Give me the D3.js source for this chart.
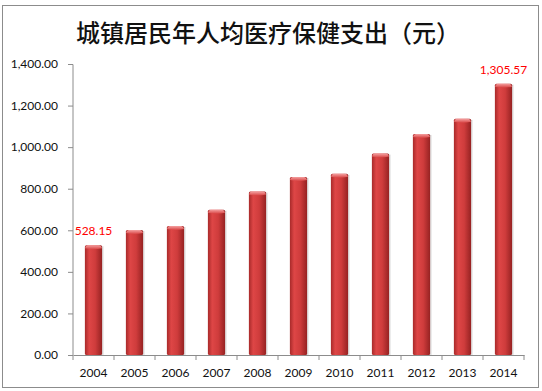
<!DOCTYPE html>
<html>
<head>
<meta charset="utf-8">
<script src="https://cdn.jsdelivr.net/npm/d3@7"></script>
<style>
  body { margin: 0; background: #fff; }
  svg { display: block; }
</style>
</head>
<body>
<div id="chart"></div>
<script>
const years = ['2004', '2005', '2006', '2007', '2008', '2009', '2010', '2011', '2012', '2013', '2014'];
const spending = [528.15, 600.85, 620.54, 699.09, 786.20, 856.41, 871.77, 968.98, 1063.68, 1136.10, 1305.57];
const yTicks = [0, 200, 400, 600, 800, 1000, 1200, 1400];
const labelled = ['2004', '2014'];
const title = '城镇居民年人均医疗保健支出（元）';

const width = 542, height = 391;
const margin = {left: 73, right: 18, top: 64, bottom: 36};

const svg = d3.select('#chart').append('svg')
    .attr('width', width).attr('height', height);

const defs = svg.append('defs');
const grad = defs.append('linearGradient').attr('id', 'barGrad')
    .attr('x1', '0%').attr('x2', '100%').attr('y1', '0%').attr('y2', '0%');
grad.append('stop').attr('offset', '0%').attr('stop-color', '#a82a2a');
grad.append('stop').attr('offset', '25%').attr('stop-color', '#de4646');
grad.append('stop').attr('offset', '60%').attr('stop-color', '#cf3c3c');
grad.append('stop').attr('offset', '100%').attr('stop-color', '#962222');

const capGrad = defs.append('linearGradient').attr('id', 'capGrad')
    .attr('x1', '0%').attr('x2', '0%').attr('y1', '0%').attr('y2', '100%');
capGrad.append('stop').attr('offset', '0%').attr('stop-color', '#f4a0a0');
capGrad.append('stop').attr('offset', '100%').attr('stop-color', '#d84444');

// outer frame
svg.append('rect')
    .attr('x', 2.5).attr('y', 5.5).attr('width', 536).attr('height', 382)
    .attr('fill', '#fff').attr('stroke', '#8c8c8c').attr('stroke-width', 1);

svg.append('text')
    .attr('x', 268).attr('y', 42)
    .attr('text-anchor', 'middle')
    .attr('font-family', '"Noto Sans CJK SC", sans-serif')
    .attr('font-weight', 500)
    .attr('font-size', 24)
    .attr('fill', '#111')
    .text(title);

const x = d3.scaleBand().domain(years)
    .range([margin.left, width - margin.right]).paddingInner(0.58).paddingOuter(0.29);
const y = d3.scaleLinear().domain([0, 1400]).range([height - margin.bottom, margin.top]);

// y axis
const yAxis = svg.append('g')
    .attr('transform', `translate(${margin.left},0)`)
    .call(d3.axisLeft(y).tickValues(yTicks).tickFormat(d3.format(',.2f')).tickSize(5).tickPadding(10));
yAxis.selectAll('path, line').attr('stroke', '#8c8c8c');
yAxis.select('.domain').attr('d', `M-5,${y(1400) + 0.5}H0V${y(0)}`);
yAxis.selectAll('text')
    .attr('font-family', 'Lato, "Open Sans", sans-serif')
    .attr('font-size', 12).attr('fill', '#111');

// x axis
const xAxis = svg.append('g')
    .attr('transform', `translate(0,${y(0)})`)
    .call(d3.axisBottom(x).tickSize(0).tickPadding(13));
xAxis.select('.domain').attr('stroke', '#8c8c8c');
xAxis.selectAll('text')
    .attr('font-family', 'Lato, "Open Sans", sans-serif')
    .attr('font-size', 12).attr('fill', '#111');
const step = x.step();
xAxis.selectAll('.sep').data(d3.range(years.length + 1)).join('line')
    .attr('class', 'sep')
    .attr('x1', i => margin.left + i * step).attr('x2', i => margin.left + i * step)
    .attr('y1', 0).attr('y2', 5)
    .attr('stroke', '#8c8c8c');

// bars
const bars = svg.append('g');
const data = years.map((yr, i) => ({year: yr, value: spending[i]}));
bars.selectAll('rect.shadow').data(data).join('rect')
    .attr('class', 'shadow')
    .attr('x', d => x(d.year) + 1.5)
    .attr('y', d => y(d.value) + 1)
    .attr('width', x.bandwidth())
    .attr('height', d => y(0) - y(d.value) - 1)
    .attr('fill', '#000').attr('opacity', 0.12);
bars.selectAll('rect.bar').data(data).join('rect')
    .attr('class', 'bar')
    .attr('x', d => x(d.year))
    .attr('y', d => y(d.value))
    .attr('width', x.bandwidth())
    .attr('height', d => y(0) - y(d.value))
    .attr('rx', 1.5)
    .attr('fill', 'url(#barGrad)');
bars.selectAll('path.cap').data(data).join('path')
    .attr('class', 'cap')
    .attr('d', d => {
      const x0 = x(d.year), w = x.bandwidth(), t = y(d.value);
      return `M${x0},${t + 3}Q${x0 + 1},${t} ${x0 + 3},${t}H${x0 + w - 3}Q${x0 + w - 1},${t} ${x0 + w},${t + 3}Q${x0 + w / 2},${t + 5} ${x0},${t + 3}Z`;
    })
    .attr('fill', 'url(#capGrad)');

// data labels for first and last
svg.append('g').selectAll('text').data(data.filter(d => labelled.includes(d.year))).join('text')
    .attr('x', d => x(d.year) + x.bandwidth() / 2)
    .attr('y', d => y(d.value) - 10)
    .attr('text-anchor', 'middle')
    .attr('font-family', 'Lato, "Open Sans", sans-serif')
    .attr('font-size', 12)
    .attr('fill', '#ff0000')
    .text(d => d3.format(',.2f')(d.value));
</script>
</body>
</html>
